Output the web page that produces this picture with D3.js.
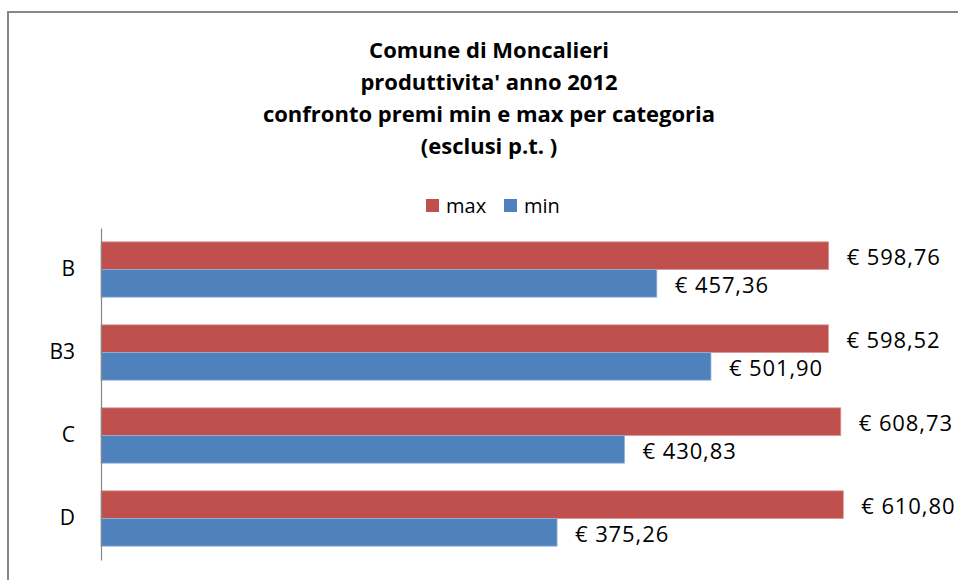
<!DOCTYPE html>
<html>
<head>
<meta charset="utf-8">
<script src="https://cdn.jsdelivr.net/npm/d3@7"></script>
<style>
  body { margin: 0; background: #fff; }
  svg { display: block; font-family: "Open Sans", "Noto Sans", sans-serif; }
</style>
</head>
<body>
<div id="chart"></div>
<script>
// data
var categories = ["B", "B3", "C", "D"];
var maxValues = [598.76, 598.52, 608.73, 610.80];
var minValues = [457.36, 501.90, 430.83, 375.26];
var seriesNames = ["max", "min"];
var titleLines = ["Comune di Moncalieri", "produttivita' anno 2012",
                  "confronto premi min e max per categoria", "(esclusi p.t. )"];

var W = 958, H = 580;
var colors = { max: "#C0504D", min: "#4F81BD" };
var strokes = { max: "#D99694", min: "#95B3D7" };

var svg = d3.select("#chart").append("svg")
  .attr("width", W)
  .attr("height", H);

// outer chart frame (runs off the right / bottom edge)
svg.append("rect")
  .attr("x", 8).attr("y", 12)
  .attr("width", W + 20).attr("height", H + 20)
  .attr("fill", "#fff")
  .attr("stroke", "#878787")
  .attr("stroke-width", 2);

// Title
var title = svg.append("text")
  .attr("text-anchor", "middle")
  .attr("font-size", "22px")
  .attr("font-weight", "bold")
  .attr("fill", "#000");
titleLines.forEach(function(line, i) {
  title.append("tspan")
    .attr("x", 489)
    .attr("y", 58 + i * 32)
    .text(line);
});

// Legend
var legend = svg.append("g").attr("transform", "translate(426, 199)");
var legendX = [0, 78];
seriesNames.forEach(function(name, i) {
  var item = legend.append("g").attr("transform", "translate(" + legendX[i] + ",0)");
  item.append("rect")
    .attr("width", 13).attr("height", 13)
    .attr("fill", colors[name]);
  item.append("text")
    .attr("x", 20).attr("y", 13.5)
    .attr("font-size", "20px")
    .text(name);
});

// scales
var margin = { left: 101, top: 228 };
var plotBottom = 560;

var x = d3.scaleLinear()
  .domain([0, 700])
  .range([margin.left, margin.left + 700 * 1.2153]);

var y = d3.scaleBand()
  .domain(categories)
  .range([margin.top, plotBottom])
  .padding(0);

var bw = y.bandwidth();
var barH = bw / 3;

var rows = categories.map(function(c, i) {
  return { cat: c, max: maxValues[i], min: minValues[i] };
});

// bars
seriesNames.forEach(function(name, si) {
  svg.append("g").selectAll("rect")
    .data(rows)
    .enter()
    .append("rect")
    .attr("x", x(0))
    .attr("y", function(d) { return y(d.cat) + bw / 6 + si * barH; })
    .attr("width", function(d) { return x(d[name]) - x(0); })
    .attr("height", barH)
    .attr("fill", colors[name])
    .attr("stroke", strokes[name])
    .attr("stroke-width", 0.8);

  svg.append("g").selectAll("text")
    .data(rows)
    .enter()
    .append("text")
    .attr("x", function(d) { return x(d[name]) + 18; })
    .attr("y", function(d) { return y(d.cat) + bw / 6 + si * barH + barH / 2 + 2; })
    .attr("dy", "0.35em")
    .attr("font-size", "22px")
    .attr("letter-spacing", "0.9px")
    .attr("fill", "#000")
    .text(function(d) { return "€ " + d3.format(".2f")(d[name]).replace(".", ","); });
});

// category axis
var yAxis = d3.axisLeft(y).tickSize(0).tickPadding(26);
var yAxisGroup = svg.append("g")
  .attr("transform", "translate(" + margin.left + ",0)")
  .call(yAxis);
yAxisGroup.select(".domain").attr("stroke", "#868686").attr("stroke-width", 1.2);
yAxisGroup.selectAll("text")
  .attr("font-size", "21px")
  .attr("font-family", "\"Open Sans\", \"Noto Sans\", sans-serif")
  .attr("fill", "#000");
</script>
</body>
</html>
